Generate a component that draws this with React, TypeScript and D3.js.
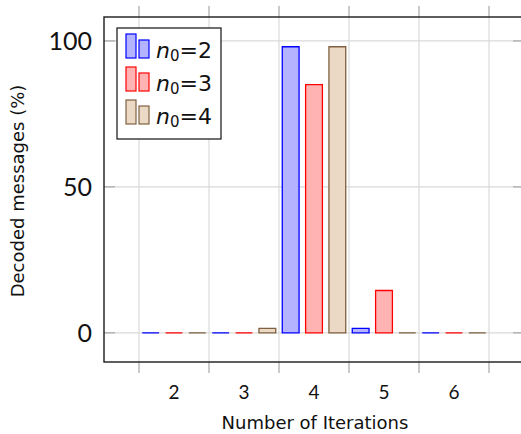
import React from 'react';
import * as d3 from 'd3';

// iterations on the x axis
const categories = [2, 3, 4, 5, 6];
// decoded messages (%) for each n0
const n0_2 = [0, 0, 98, 1.5, 0];
const n0_3 = [0, 0, 85, 14.5, 0];
const n0_4 = [0, 1.5, 98, 0, 0];
const seriesNames = ['2', '3', '4'];
const yTicks = [0, 50, 100];

const W = 521;
const H = 434;
const numFont = 'Lato, "Open Sans", sans-serif';
const labelFont = '"DejaVu Sans", sans-serif';

const series = [
  { name: seriesNames[0], values: n0_2, fill: '#b3b3ff', stroke: '#0000ff' },
  { name: seriesNames[1], values: n0_3, fill: '#ffb3b3', stroke: '#ff0000' },
  { name: seriesNames[2], values: n0_4, fill: '#ebd9c6', stroke: '#7f6040' },
];

export default function App() {
  const x = d3.scaleLinear().domain([1, 7]).range([104, 524]);
  const y = d3.scaleLinear().domain([-10, 108.2]).range([362, 17]);
  const [x0, x1] = x.range();
  const [yb, yt] = y.range();

  // grid / tick positions between groups
  const xGrid = d3.range(1.5, 7, 1);
  const barW = x(1.12) - x(0.88);
  const gap = 1 / 3;

  const gridColor = '#dadada';
  const tickColor = '#a8a8a8';

  const barPath = (cx: number, v: number) => {
    const p = d3.path();
    p.moveTo(cx - barW / 2, y(0));
    p.lineTo(cx - barW / 2, y(v));
    p.lineTo(cx + barW / 2, y(v));
    p.lineTo(cx + barW / 2, y(0));
    p.closePath();
    return p.toString();
  };

  return (
    <svg width={W} height={H} style={{ position: 'absolute', left: 0, top: 0, background: '#fff' }}>
      {/* grid */}
      {xGrid.map((g) => (
        <line key={'vg' + g} x1={x(g)} x2={x(g)} y1={yt} y2={yb} stroke={gridColor} strokeWidth={1.2} />
      ))}
      {yTicks.map((t) => (
        <line key={'hg' + t} x1={x0} x2={x1} y1={y(t)} y2={y(t)} stroke={gridColor} strokeWidth={1.2} />
      ))}

      {/* bars */}
      {series.map((s, si) =>
        s.values.map((v, i) => (
          <path
            key={s.name + '-' + i}
            d={barPath(x(categories[i] + (si - 1) * gap), v)}
            fill={s.fill}
            stroke={s.stroke}
            strokeWidth={1.3}
          />
        ))
      )}

      {/* ticks */}
      {xGrid.map((g) => (
        <g key={'xt' + g}>
          <line x1={x(g)} x2={x(g)} y1={yb} y2={yb + 11} stroke={tickColor} strokeWidth={1.2} />
          <line x1={x(g)} x2={x(g)} y1={yt} y2={yt - 11} stroke={tickColor} strokeWidth={1.2} />
        </g>
      ))}
      {yTicks.map((t) => (
        <g key={'yt' + t}>
          <line x1={x0} x2={x0 + 11} y1={y(t)} y2={y(t)} stroke={tickColor} strokeWidth={1.2} />
          <line x1={x1} x2={x1 - 11} y1={y(t)} y2={y(t)} stroke={tickColor} strokeWidth={1.2} />
        </g>
      ))}

      {/* frame */}
      <rect x={x0} y={yt} width={x1 - x0} height={yb - yt} fill="none" stroke="#1a1a1a" strokeWidth={1.4} />

      {/* tick labels */}
      {yTicks.map((t) => (
        <text key={'yl' + t} x={92} y={y(t)} dy="0.36em" textAnchor="end" fontSize={25} fontFamily={numFont} fill="#111">
          {t}
        </text>
      ))}
      {categories.map((c) => (
        <text key={'xl' + c} x={x(c)} y={399} textAnchor="middle" fontSize={19} fontFamily={numFont} fill="#111">
          {c}
        </text>
      ))}

      {/* axis labels */}
      <text x={315} y={429} textAnchor="middle" fontSize={18} fontFamily={labelFont} fill="#111">
        Number of Iterations
      </text>
      <text
        transform={`translate(24, 191) rotate(-90)`}
        textAnchor="middle"
        fontSize={18}
        fontFamily={labelFont}
        fill="#111"
      >
        Decoded messages (%)
      </text>

      {/* legend */}
      <rect x={117} y={28} width={104} height={111} fill="#fff" stroke="#111" strokeWidth={1.2} />
      {series.map((s, i) => {
        const base = 58 + i * 33;
        return (
          <g key={'lg' + s.name}>
            <rect x={126} y={base - 24} width={10} height={24} fill={s.fill} stroke={s.stroke} strokeWidth={1.2} />
            <rect x={139} y={base - 18} width={10} height={18} fill={s.fill} stroke={s.stroke} strokeWidth={1.2} />
            <text x={156} y={base} fontSize={22} fontFamily={labelFont} fill="#111">
              <tspan fontStyle="italic">n</tspan>
              <tspan fontSize={15} dy={3}>0</tspan>
              <tspan dy={-3}>={s.name}</tspan>
            </text>
          </g>
        );
      })}
    </svg>
  );
}
